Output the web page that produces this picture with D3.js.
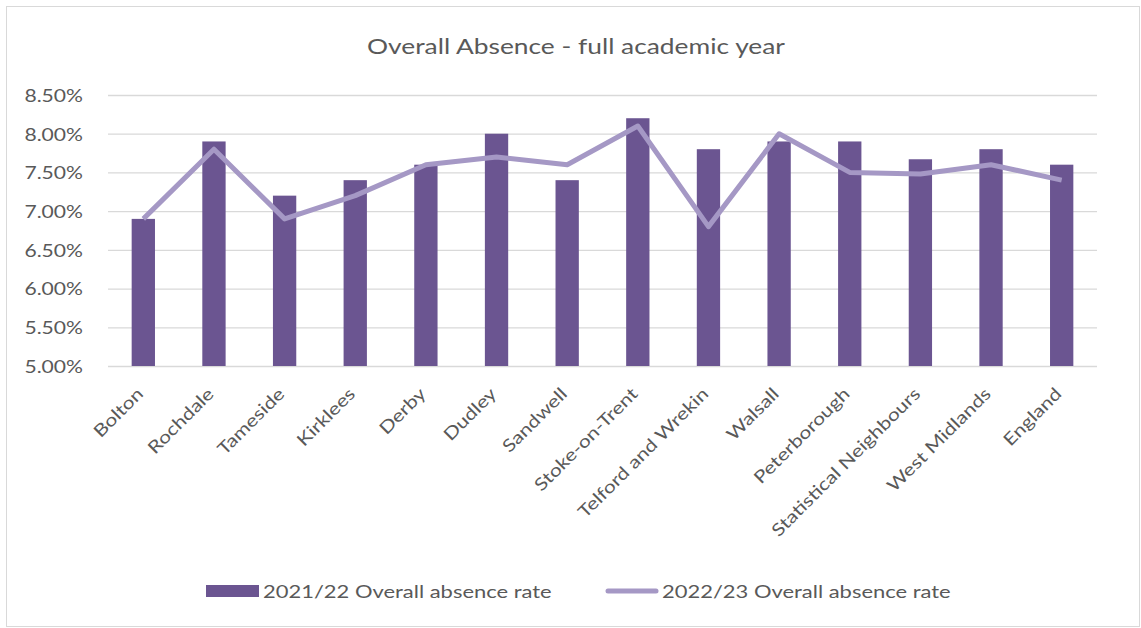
<!DOCTYPE html>
<html>
<head>
<meta charset="utf-8">
<script src="https://cdn.jsdelivr.net/npm/d3@7"></script>
<style>
html,body{margin:0;padding:0;background:#fff;}
svg{display:block;font-family:Lato, "Open Sans", sans-serif;}
</style>
</head>
<body>
<svg id="chart" width="1141" height="628"></svg>
<script>
const categories = ["Bolton","Rochdale","Tameside","Kirklees","Derby","Dudley","Sandwell","Stoke-on-Trent","Telford and Wrekin","Walsall","Peterborough","Statistical Neighbours","West Midlands","England"];
const rate2122 = [6.9,7.9,7.2,7.4,7.6,8.0,7.4,8.2,7.8,7.9,7.9,7.67,7.8,7.6];
const rate2223 = [6.9,7.8,6.9,7.2,7.6,7.7,7.6,8.1,6.8,8.0,7.5,7.48,7.6,7.4];
const yTicks = [5.0,5.5,6.0,6.5,7.0,7.5,8.0,8.5];
const seriesNames = ["2021/22 Overall absence rate","2022/23 Overall absence rate"];
const title = "Overall Absence - full academic year";

(function(){
const W=1141,H=628;
const svg=d3.select("#chart");
const barColor="#6b5591", lineColor="#a598c5", textColor="#595959", gridColor="#d9d9d9";
const SX=1.22;
const FONT="Lato, 'Open Sans', sans-serif";

svg.append("rect").attr("x",6.5).attr("y",6.5).attr("width",W-8).attr("height",H-8)
  .attr("fill","#fff").attr("stroke","#d9d9d9").attr("stroke-width",1);

const pL=108,pR=1097,pT=95,pB=366;
const x=d3.scaleBand().domain(categories).range([pL,pR]).paddingInner(0.67).paddingOuter(0.335);
const y=d3.scaleLinear().domain([5,8.5]).range([pB,pT]);

svg.append("text").attr("transform",`translate(576,54) scale(${SX},1)`).attr("text-anchor","middle")
  .attr("font-size",21.6).attr("fill",textColor).text(title);

const gy=svg.append("g").attr("transform",`translate(${pL},0)`)
  .call(d3.axisLeft(y).tickValues(yTicks).tickSize(-(pR-pL))
    .tickFormat(d=>d.toFixed(2)+"%"));
gy.select(".domain").remove();
gy.selectAll(".tick line").attr("stroke",gridColor).attr("stroke-width",1.3);
gy.selectAll(".tick text").attr("fill",textColor).attr("font-size",17.3).attr("font-family",FONT)
  .attr("x",0).attr("dy","0.37em").attr("text-anchor","end")
  .attr("transform",`translate(-25,0) scale(${SX},1)`);

svg.append("g").selectAll("rect").data(categories).join("rect")
  .attr("x",d=>x(d)).attr("width",x.bandwidth())
  .attr("y",(d,i)=>y(rate2122[i])).attr("height",(d,i)=>y(5)-y(rate2122[i]))
  .attr("fill",barColor);

const line=d3.line().x((d,i)=>x(categories[i])+x.bandwidth()/2).y(d=>y(d));
svg.append("path").datum(rate2223).attr("d",line).attr("fill","none")
  .attr("stroke",lineColor).attr("stroke-width",5).attr("stroke-linejoin","round");

const gx=svg.append("g").attr("transform",`translate(0,${pB})`)
  .call(d3.axisBottom(x).tickSize(0).tickPadding(0));
gx.select(".domain").remove();
gx.selectAll(".tick text").attr("fill",textColor).attr("font-size",17.3)
  .attr("font-family",FONT)
  .attr("text-anchor","end").attr("dy",0).attr("y",0)
  .attr("transform",`translate(1,29) rotate(-45) scale(${SX},1)`);

const lg=svg.append("g");
lg.append("rect").attr("x",206).attr("y",585).attr("width",53).attr("height",12).attr("fill",barColor);
lg.append("text").attr("transform",`translate(263,598) scale(${SX},1)`).attr("font-size",18).attr("fill",textColor).text(seriesNames[0]);
lg.append("line").attr("x1",608).attr("x2",656).attr("y1",591).attr("y2",591)
  .attr("stroke",lineColor).attr("stroke-width",5).attr("stroke-linecap","round");
lg.append("text").attr("transform",`translate(662,598) scale(${SX},1)`).attr("font-size",18).attr("fill",textColor).text(seriesNames[1]);
})();
</script>
</body>
</html>
